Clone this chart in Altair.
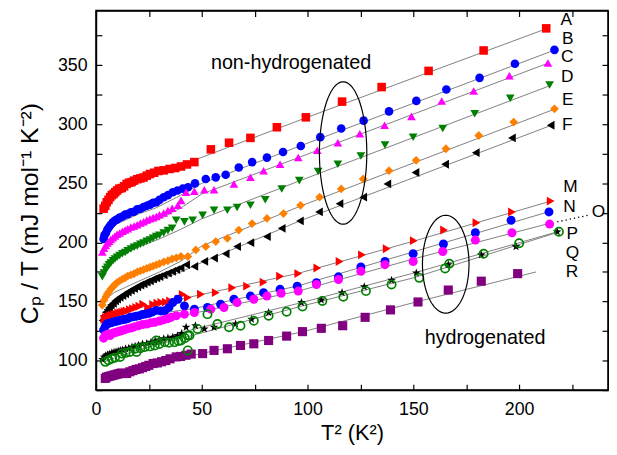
import altair as alt
import pandas as pd
import numpy as np

FONT = "Liberation Sans"
X_DOMAIN = [0, 242]
Y_DOMAIN = [75, 396.3]

# ---------------- data ----------------
# non-hydrogenated
A_x = [3.6, 4.4, 5.1, 5.9, 6.7, 7.5, 8.3, 9.1, 10, 11, 12.2, 13.3, 14.5, 15.6, 16.8, 18, 19.5, 21, 22.5, 24, 25.5,
       27.5, 29.5, 32, 34.8, 37.5, 40.2, 43, 46.5, 54.3, 62.9, 73, 85.5, 99.2, 116.3, 135, 157.2, 183.2, 212.8]
A_y = [228.6, 231, 234, 236, 238.3, 240, 241, 242.5, 244, 245.5, 246, 247.5, 249.5, 250.5, 251, 252.3, 253.5, 254.2,
       255, 256.5, 257.9, 259, 260.5, 261, 262.2, 263, 264.3, 266, 268, 278.8, 284.4, 288.5, 297.5, 305.9, 319.2,
       331.5, 345.2, 362.5, 381.2]

B_x = [3.6, 4, 4.7, 5.4, 6.2, 7, 8, 9, 10, 11.2, 12.5, 13.8, 15, 16.5, 18, 19.5, 21, 22.5, 24, 25.5, 27, 28.5, 30,
       32, 34, 36.3, 38.5, 41, 43.5, 46.8, 51.9, 56.6, 61.3, 67.5, 73.8, 80.8, 88.4, 96.8, 106, 115.9, 126.5, 138.5,
       151.4, 165.6, 181.3, 198, 216.7]
B_y = [203, 206, 208, 211, 213, 215, 217, 218.5, 219.5, 221, 222, 223.5, 224, 225.5, 226, 228, 228.5, 230, 231, 232,
       233.5, 234, 236, 238.3, 240, 242.5, 244, 245.5, 246.7, 250, 253.7, 255.1, 257.3, 263.4, 268, 271.8, 276.5,
       281.6, 289.1, 296.4, 303.1, 310.9, 319.8, 329.5, 339.3, 351.3, 363]

C_x = [3, 3.8, 4.6, 5.4, 6.2, 7, 8, 9, 10, 11.2, 12.5, 13.8, 15, 16.5, 18, 19.5, 21, 22.5, 24, 25.5, 27, 28.5, 30,
       32, 34, 36, 38.7, 40.2, 42.6, 46.5, 51.2, 55.8, 65.2, 73, 79.2, 87, 95.6, 104.6, 114.3, 124.7, 136.4, 149.1,
       163.4, 178.5, 195.4, 213.6]
C_y = [192, 195, 197.5, 199.5, 201, 202.5, 204, 205.5, 207, 208, 209.5, 210.5, 211.5, 213, 214, 215, 216.5, 217.5,
       219, 220, 221, 222, 223.5, 225, 227, 229, 231.4, 235.6, 242.5, 243.3, 244.5, 244.5, 249.5, 255.1, 260.7,
       266.2, 271.8, 278, 284.4, 291.9, 299.2, 306.7, 319.8, 328.2, 341, 351.9]

D_x = [3, 3.8, 4.6, 5.4, 6.2, 7, 8, 9, 10, 11.2, 12.5, 13.8, 15, 16.5, 18, 19.5, 21, 22.5, 24, 25.5, 27, 28.5, 30,
       32, 34, 36, 37.9, 41.8, 45.7, 50.4, 55.8, 62.1, 66.7, 73, 80, 87.8, 96.1, 105, 114.3, 125.2, 136.6, 149.9,
       163.9, 179, 195.8, 214.4]
D_y = [171, 174, 177, 179, 181, 182.5, 184.5, 186, 187.5, 189, 190.5, 191.5, 193, 194.5, 196, 197, 198.5, 199.5,
       201, 202, 203.5, 205, 206, 208, 210, 212, 218.8, 217.4, 218.8, 223, 227.2, 227.2, 229.5, 231.4, 236.1, 245.3,
       252.3, 260, 266.2, 273.2, 282.4, 289.1, 296.4, 309, 322, 333.2]

E_x = [3, 3.8, 4.6, 5.4, 6.2, 7, 8, 9, 10, 11.2, 12.5, 13.8, 15, 16.5, 18, 19.5, 21, 22.5, 24, 25.5, 27, 28.5, 30,
       32, 34, 36, 38, 40.2, 43.4, 47.2, 51.9, 56.6, 62.1, 67.5, 73.8, 80.8, 88.6, 96.7, 105.7, 115.9, 126.3, 138.5,
       151.3, 165.4, 180.9, 197.4, 216.7]
E_y = [147, 151, 154, 156.5, 158.5, 160.5, 162.5, 164.5, 166, 167.5, 169, 170, 171.5, 172.5, 173.5, 175, 176, 177,
       178, 179, 180, 181, 182, 183.5, 184.5, 186, 187, 188.1, 188.1, 193.7, 196.5, 200.7, 203.5, 210.5, 216, 220.3,
       224.4, 231.4, 238.3, 245.3, 253.7, 260.7, 269.5, 279.3, 290.5, 301.9, 313.1]

F_x = [3, 3.8, 4.6, 5.4, 6.2, 7, 8, 9, 10, 11.2, 12.5, 13.8, 15, 16.5, 18, 19.5, 21, 22.5, 24, 25.5, 27, 28.5, 30,
       32, 34, 36, 38, 40, 42.6, 46.5, 51.2, 55.8, 61.3, 66.7, 73, 80.8, 87.8, 96.4, 105.4, 115.1, 126.3, 137.7, 151,
       165, 179.5, 196.6, 214.9]
F_y = [134, 138, 141, 143, 145, 147, 148.5, 150.5, 152, 153.5, 155, 156.5, 158, 159.5, 161, 162.5, 164, 165, 166.5,
       167.5, 169, 170, 171, 172.5, 174, 175.5, 177, 178.5, 181.2, 179.7, 183.9, 186.8, 190.4, 196.5, 199.8, 204.9,
       211.9, 218.2, 225.8, 232.8, 238.3, 249.5, 259.2, 266.2, 276, 288.5, 299.2]

# hydrogenated
M_x = [4, 4.8, 5.6, 6.5, 7.5, 8.5, 9.5, 10.5, 11.5, 12.5, 13.5, 14.5, 16, 17.5, 19, 20.5, 22.3, 24.6, 27, 29, 30.9,
       33, 35, 37.1, 39, 41, 43.4, 49.6, 56.6, 64.4, 71.4, 79.2, 87, 95.6, 104.6, 115.1, 125.7, 137.4, 150.2, 164.5,
       179.8, 196.6, 214.9]
M_y = [135, 136.5, 137, 138, 138.5, 139, 139.5, 140, 140.5, 141, 141.5, 142, 143, 144, 145, 146, 147.7, 145, 147.5,
       148.5, 149.1, 149.5, 150.5, 149.1, 152, 156, 153.3, 156.1, 157.5, 161.7, 163, 166.4, 171.4, 173.6, 178.4,
       183.9, 189.5, 194.6, 201.5, 210.5, 216.6, 225.8, 235]

N_x = [3.6, 4.4, 5.2, 6, 7, 8, 9, 10, 11.2, 12.5, 13.8, 15, 16.1, 17.5, 19, 20.5, 22, 23.5, 25, 26.5, 28.5, 30.5,
       32.5, 34.5, 36.3, 38.7, 41.8, 46.5, 52.7, 58.9, 65.2, 73, 79.2, 87, 95.1, 104.2, 114.6, 125.2, 136.6, 149.9,
       164.2, 179.3, 196.2, 214.1]
N_y = [126, 129, 131, 131.5, 132, 132.5, 133, 133.5, 134, 134.5, 135, 135.5, 136.6, 137, 137.5, 138, 139, 139.5, 140,
       141, 142.5, 142, 142.1, 145, 149.1, 151.9, 146.3, 143.5, 144.9, 147.7, 151.9, 154.6, 157.5, 160.3, 163, 165.9,
       170.9, 179.2, 183.9, 190.4, 198.7, 208.2, 218.8, 225.8]

O_x = [3.6, 4.4, 5.2, 6, 6.7, 7.5, 8.5, 9.5, 10.5, 11.5, 12.2, 13.5, 15, 16.5, 18, 20, 22, 24, 26, 27.8, 30, 32, 34,
       35.5, 38, 41.8, 46.5, 54.3, 60.5, 66.7, 74.6, 80.8, 87.5, 95.6, 104.2, 114.6, 125.2, 136.6, 149.9, 163.9,
       179.3, 196.6, 214.4]
O_y = [119, 121.2, 122, 122.5, 121.2, 123, 123.5, 124, 124.5, 125, 125.4, 126, 127, 127.5, 128.5, 129.5, 130.5, 131,
       132, 132.4, 133.5, 134.5, 135.5, 136.6, 138, 139.3, 140.7, 143.5, 144.9, 149.1, 151.9, 154.6, 157, 158.8,
       164.4, 168.6, 175.6, 181.2, 183.9, 192.3, 202, 208.2, 215.5]

P_x = [4.4, 5.9, 7.5, 9, 11.4, 12.2, 14, 16, 18.4, 19.2, 21, 23.1, 25.5, 27.8, 28.5, 30, 32.5, 34.5, 37.1, 39, 40.2,
       42, 43.4, 44.2, 48, 43.4, 52.7, 57.4, 62.9, 68.3, 74.6, 81.6, 90.1, 97.6, 107, 116.9, 127.6, 139.7, 152.8,
       165, 167, 183.2, 200, 218.8]
P_y = [98.9, 100.3, 101.5, 102.5, 103.1, 105.9, 106.5, 107.3, 110, 107.3, 110.5, 111.5, 112, 112.8, 117, 114, 115.6,
       115, 115.6, 116.5, 117, 119, 121.2, 121.2, 126.8, 108.6, 139.3, 131, 128.2, 129.5, 133.7, 137.9, 141.3, 145.8,
       150.5, 154.1, 158.8, 164.4, 170, 178, 182, 190.4, 199.3, 209]

Q_x = [3, 3.8, 4.6, 5.5, 6.5, 7.5, 8.5, 9.5, 10.5, 11.5, 12.5, 14, 15.5, 17, 18.5, 20, 22, 24, 26, 28, 30, 32, 34,
       36.3, 38.5, 40.5, 42.6, 47, 51.2, 55.8, 66, 73.5, 81.6, 97.1, 106.5, 116.3, 126.8, 139.7, 151.4, 166.5,
       182.1, 198.5, 218]
Q_y = [101, 103, 104, 105, 105.5, 106.5, 107, 107.5, 108, 108.5, 109, 110, 110.5, 111.5, 112, 113, 114, 114.5, 115.5,
       116.5, 117.5, 118.5, 119, 119.8, 121, 123, 128.2, 129.5, 126.8, 128.2, 131, 135, 140.7, 149.1, 151.3, 157.5,
       162.5, 168, 174.2, 181.2, 189.5, 196.5, 209]

R_x = [4.4, 5, 6, 7, 8, 9, 10, 11, 12, 13, 14.5, 16, 17.5, 19, 20.5, 22, 23.5, 25, 27, 29, 31, 33, 35, 37.9, 40,
       42.5, 45, 50.4, 55.8, 62.1, 68.3, 74.6, 81.6, 90.1, 97.6, 106.5, 116.6, 127.2, 139.2, 152.2, 166.5, 182.1,
       199.3]
R_y = [84.9, 86, 86.5, 87, 87.5, 88, 88.5, 89, 89.5, 89, 89.1, 90.5, 91.5, 92.5, 93, 94, 95, 96, 97.5, 98, 99, 100,
       101.5, 103.1, 103.5, 104.5, 105.5, 105.9, 108.6, 110, 112.8, 114.2, 117, 120.7, 124.5, 127.3, 129.5, 136.6,
       142.9, 149.6, 159.7, 167.2, 173.6]

# fitted curves (gray lines)
FIT = {
    "A": ([4, 6, 9, 13, 18, 25, 35, 50, 100, 213], [227, 232, 238, 244, 250, 256, 263, 272, 306, 381]),
    "B": ([4, 6, 9, 14, 20, 28, 38, 50, 97, 217], [208, 212, 215, 219, 224, 229, 238, 250, 282, 363]),
    "C": ([3.5, 6, 9, 14, 20, 30, 40, 50, 96, 214], [194, 199, 203, 208, 213, 220, 229, 241, 272, 352]),
    "D": ([3.5, 6, 9, 14, 20, 30, 40, 50, 96, 215], [176, 181, 185, 191, 196, 203, 211, 220, 252, 333]),
    "E": ([3.5, 6, 9, 14, 20, 30, 40, 50, 97, 217], [148, 154, 158, 162, 167, 175, 184, 197, 231, 313]),
    "F": ([3.5, 6, 9, 14, 20, 30, 40, 50, 96, 215], [137, 143, 148, 154, 160, 168, 175, 183, 218, 299]),
    "M": ([4, 10, 20, 30, 45, 96, 150, 215], [135, 139.5, 144.5, 148.5, 154, 174, 201, 235]),
    "N": ([4, 10, 20, 30, 46, 95, 150, 214], [128, 132, 136.5, 140, 144, 163, 192, 226]),
    "O": ([4, 10, 20, 30, 46, 96, 150, 214], [120, 124, 129, 133, 140, 159, 186, 216]),
    "P": ([4, 10, 20, 30, 45, 97, 150, 219], [99, 103, 109, 114, 121, 146, 170, 209]),
    "Q": ([3, 10, 20, 30, 45, 97, 150, 218], [102, 108, 113, 117.5, 126, 149, 174, 209]),
    "R": ([4, 10, 20, 30, 50, 98, 150, 208], [86, 88.5, 93, 98.5, 106, 124.5, 149, 175]),
}

# series labels at the right
lab_text = ["A", "B", "C", "D", "E", "F", "M", "N", "O", "P", "Q", "R"]
lab_x = [219.6, 220.3, 219.8, 219.8, 220.3, 220.3, 220.8, 220.8, 234.3, 222.4, 222, 222]
lab_y = [388.6, 372.2, 356.9, 340.2, 320.7, 299.7, 246.7, 230, 225.8, 207, 190.6, 174.6]

# dotted leader for label O
lead_x = [218, 232.8]
lead_y = [217.4, 223]

# ellipses (center, semi-axes in data units)
ell_cx = [116.8, 165.3]
ell_cy = [275.7, 181.6]
ell_rx = [11.2, 11.0]
ell_ry = [60.3, 41.4]

# annotations
ann_text = ["non-hydrogenated", "hydrogenated"]
ann_x = [92.2, 183.9]
ann_y = [347.1, 114.2]

# ---------------- tables ----------------
series = [("A", A_x, A_y), ("B", B_x, B_y), ("C", C_x, C_y), ("D", D_x, D_y), ("E", E_x, E_y),
          ("F", F_x, F_y), ("M", M_x, M_y), ("N", N_x, N_y), ("O", O_x, O_y), ("P", P_x, P_y),
          ("Q", Q_x, Q_y), ("R", R_x, R_y)]
rows = []
for name, xs_, ys_ in series:
    for xv, yv in zip(xs_, ys_):
        rows.append({"s": name, "x": xv, "y": yv})
pts = pd.DataFrame(rows)
filled_pts = pts[pts.s != "P"]
open_pts = pts[pts.s == "P"]

fit_rows = []
for name, (fx, fy) in FIT.items():
    for xv, yv in zip(fx, fy):
        fit_rows.append({"s": name, "x": xv, "y": yv})
fits = pd.DataFrame(fit_rows)

t = np.linspace(0, 2 * np.pi, 91)
ell_rows = []
for k in range(len(ell_cx)):
    for i, tv in enumerate(t):
        ell_rows.append({"e": k, "i": i,
                         "x": ell_cx[k] + ell_rx[k] * np.cos(tv),
                         "y": ell_cy[k] + ell_ry[k] * np.sin(tv)})
ells = pd.DataFrame(ell_rows)

labels = pd.DataFrame({"t": lab_text, "x": lab_x, "y": lab_y})
lead = pd.DataFrame({"x": lead_x, "y": lead_y})
ann = pd.DataFrame({"t": ann_text, "x": ann_x, "y": ann_y})

STAR = ("M0,-1L0.235,-0.324L0.951,-0.309L0.38,0.124L0.588,0.809L0,0.4L-0.588,0.809"
        "L-0.38,0.124L-0.951,-0.309L-0.235,-0.324Z")
f_names = ["A", "B", "C", "D", "E", "F", "M", "N", "O", "Q", "R"]
f_shapes = ["square", "circle", "triangle-up", "triangle-down", "diamond", "triangle-left",
            "triangle-right", "circle", "circle", STAR, "square"]
f_colors = ["#ff0000", "#0000ff", "#ff00ff", "#008000", "#ff8000", "#000000",
            "#ff0000", "#0000ff", "#ff00ff", "#000000", "#800080"]
f_sizes = [75, 85, 90, 90, 85, 90, 90, 85, 85, 120, 75]

xs = alt.Scale(domain=X_DOMAIN, nice=False, zero=False)
ys = alt.Scale(domain=Y_DOMAIN, nice=False, zero=False)

tick_vals_x = list(range(0, 250, 25))
tick_vals_y = list(range(75, 400, 25))

x_bottom = alt.Axis(values=tick_vals_x, labelExpr="datum.value % 50 === 0 ? datum.label : ''",
                    tickSize={"expr": "-6"}, labelPadding=17, labelFontSize=18, labelFont=FONT,
                    labelColor="black", labelFlush=False, labelOverlap=False, domainColor="black",
                    domainWidth=1.5, tickColor="black", tickWidth=1.2, grid=False,
                    title="T² (K²)", titleFontSize=22, titleFont=FONT, titleFontWeight="normal",
                    titleColor="black", titlePadding=4)
y_left = alt.Axis(values=tick_vals_y, labelExpr="datum.value % 50 === 0 ? datum.label : ''",
                  tickSize={"expr": "-6"}, labelPadding=15, labelFontSize=18, labelFont=FONT,
                  labelColor="black", labelFlush=False, labelOverlap=False, domainColor="black",
                  domainWidth=1.5, tickColor="black", tickWidth=1.2, grid=False,
                  title="Cₚ / T (mJ mol⁻¹ K⁻²)", titleFontSize=25, titleFont=FONT,
                  titleFontWeight="normal", titleColor="black", titleAngle=270,
                  titleX=-67, titleY=205, titleAlign="center", titleBaseline="middle")
x_top = alt.Axis(orient="top", values=tick_vals_x, labels=False, tickSize={"expr": "-6"},
                 domainColor="black", domainWidth=1.5, tickColor="black", tickWidth=1.2,
                 grid=False, title=None)
y_right = alt.Axis(orient="right", values=tick_vals_y, labels=False, tickSize={"expr": "-6"},
                   domainColor="black", domainWidth=1.5, tickColor="black", tickWidth=1.2,
                   grid=False, title=None)

fit_layer = alt.Chart(fits).mark_line(color="#808080", strokeWidth=1).encode(
    x=alt.X("x:Q", scale=xs, axis=x_top),
    y=alt.Y("y:Q", scale=ys, axis=y_right),
    detail="s:N",
)

filled_layer = alt.Chart(filled_pts).mark_point(filled=True, opacity=1).encode(
    x=alt.X("x:Q", scale=xs, axis=x_bottom),
    y=alt.Y("y:Q", scale=ys, axis=y_left),
    shape=alt.Shape("s:N", scale=alt.Scale(domain=f_names, range=f_shapes), legend=None),
    color=alt.Color("s:N", scale=alt.Scale(domain=f_names, range=f_colors), legend=None),
    size=alt.Size("s:N", scale=alt.Scale(domain=f_names, range=f_sizes), legend=None),
)

open_layer = alt.Chart(open_pts).mark_point(shape="circle", filled=False, color="#008000",
                                            strokeWidth=1.7, size=70, opacity=1).encode(
    x=alt.X("x:Q", scale=xs, axis=None),
    y=alt.Y("y:Q", scale=ys, axis=None),
)

ell_layer = alt.Chart(ells).mark_line(color="black", strokeWidth=1.2).encode(
    x=alt.X("x:Q", scale=xs, axis=None),
    y=alt.Y("y:Q", scale=ys, axis=None),
    detail="e:N",
    order="i:Q",
)

lead_layer = alt.Chart(lead).mark_line(color="black", strokeWidth=1.3, strokeDash=[1.3, 3]).encode(
    x=alt.X("x:Q", scale=xs, axis=None),
    y=alt.Y("y:Q", scale=ys, axis=None),
)

label_layer = alt.Chart(labels).mark_text(align="left", baseline="middle", fontSize=17.5,
                                          font=FONT, color="black").encode(
    x=alt.X("x:Q", scale=xs, axis=None),
    y=alt.Y("y:Q", scale=ys, axis=None),
    text="t:N",
)

ann_layer = alt.Chart(ann).mark_text(align="center", baseline="alphabetic", fontSize=20,
                                     font=FONT, color="black").encode(
    x=alt.X("x:Q", scale=xs, axis=None),
    y=alt.Y("y:Q", scale=ys, axis=None),
    text="t:N",
)

chart = alt.layer(
    fit_layer, filled_layer, open_layer, ell_layer, lead_layer, label_layer, ann_layer
).resolve_axis(x="independent", y="independent").properties(
    width=518, height=384,
    padding={"left": 89, "top": 0, "right": 1, "bottom": 55},
    autosize=alt.AutoSizeParams(type="none"),
).configure_view(stroke="black", strokeWidth=1.5)

chart.save("out.html", embed_options={"renderer": "svg", "actions": False})
